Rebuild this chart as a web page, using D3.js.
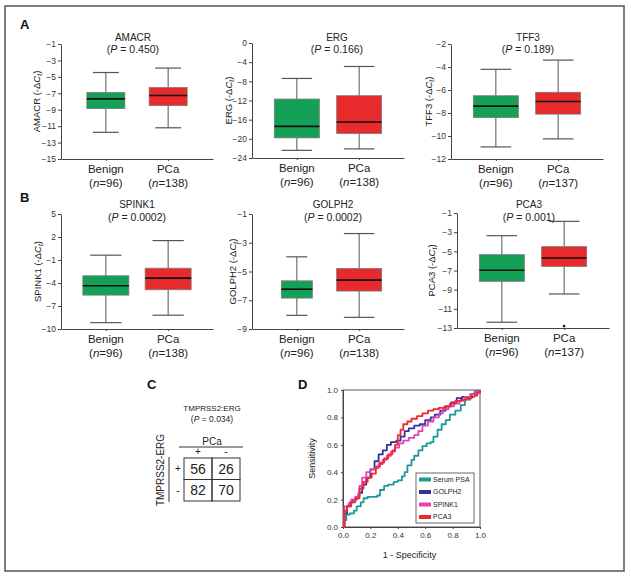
<!DOCTYPE html>
<html><head><meta charset="utf-8">
<script src="https://cdn.jsdelivr.net/npm/d3@7"></script>
<style>
body{margin:0;background:#fff}
svg{display:block}
text{font-family:"Liberation Sans",Arial,Helvetica,sans-serif;fill:#222}
</style>
</head><body><svg id="chart" width="631" height="581"></svg>
<script>
// ---------------- DATA ----------------
const groups = ["Benign", "PCa"];
const genes = ["AMACR", "ERG", "TFF3", "SPINK1", "GOLPH2", "PCA3"];
const pValues = ["0.450", "0.166", "0.189", "0.0002", "0.0002", "0.001"];
const nBenign = [96, 96, 96, 96, 96, 96];
const nPCa = [138, 138, 137, 138, 138, 137];
const yDomains = [[-15, -1], [-24, 0], [-12, -2], [-10, 5], [-9, -1], [-13, -1]];
const yTickLists = [
  [-15, -13, -11, -9, -7, -5, -3, -1],
  [-24, -20, -16, -12, -8, -4, 0],
  [-12, -10, -8, -6, -4, -2],
  [-10, -7, -4, -1, 2, 5],
  [-9, -7, -5, -3, -1],
  [-13, -11, -9, -7, -5, -3, -1]
];
// box statistics: [lower whisker, Q1, median, Q3, upper whisker]
const benignStats = [
  [-11.75, -8.86, -7.68, -6.9, -4.47],
  [-22.4, -19.8, -17.4, -11.7, -7.4],
  [-10.95, -8.4, -7.4, -6.5, -4.2],
  [-9.17, -5.58, -4.36, -3.06, -0.37],
  [-8.05, -6.85, -6.23, -5.65, -3.98],
  [-12.4, -8.13, -6.98, -5.35, -3.37]
];
const pcaStats = [
  [-11.2, -8.5, -7.27, -6.3, -3.93],
  [-22.1, -18.9, -16.5, -11.0, -4.9],
  [-10.25, -8.1, -7.0, -6.2, -3.4],
  [-8.2, -4.88, -3.37, -2.07, 1.53],
  [-8.19, -6.36, -5.6, -4.79, -2.36],
  [-9.45, -6.57, -5.7, -4.51, -1.87]
];
const pcaOutliers = [[], [], [], [], [], [-12.8]];

// contingency table TMPRSS2:ERG vs PCa
const tableTitle = "TMPRSS2:ERG";
const tableP = "0.034";
const tableCounts = [[56, 26], [82, 70]];

// ROC curves: [1 - specificity, sensitivity]
const rocSerumPSA = [[0,0],[0.01,0.05],[0.024,0.09],[0.05,0.1],[0.08,0.12],[0.1,0.15],[0.13,0.18],[0.15,0.21],[0.18,0.22],[0.22,0.22],[0.25,0.23],[0.27,0.27],[0.3,0.3],[0.33,0.31],[0.37,0.33],[0.4,0.34],[0.43,0.37],[0.45,0.4],[0.47,0.45],[0.5,0.49],[0.52,0.52],[0.55,0.56],[0.58,0.59],[0.61,0.61],[0.64,0.62],[0.66,0.66],[0.69,0.71],[0.72,0.75],[0.75,0.78],[0.78,0.82],[0.82,0.85],[0.86,0.89],[0.89,0.93],[0.93,0.97],[0.96,0.99],[1,1]];
const rocGOLPH2 = [[0,0],[0.01,0.1],[0.03,0.15],[0.05,0.18],[0.07,0.2],[0.1,0.22],[0.12,0.25],[0.14,0.31],[0.17,0.36],[0.2,0.42],[0.23,0.48],[0.26,0.53],[0.29,0.56],[0.32,0.6],[0.35,0.62],[0.39,0.63],[0.42,0.66],[0.45,0.7],[0.48,0.72],[0.52,0.74],[0.56,0.75],[0.6,0.78],[0.64,0.8],[0.67,0.82],[0.71,0.85],[0.75,0.88],[0.79,0.91],[0.83,0.94],[0.87,0.95],[0.91,0.95],[0.94,0.97],[0.97,0.99],[1,1]];
const rocSPINK1 = [[0,0],[0.01,0.15],[0.04,0.17],[0.06,0.2],[0.09,0.22],[0.11,0.24],[0.12,0.3],[0.14,0.36],[0.17,0.4],[0.2,0.42],[0.23,0.43],[0.26,0.46],[0.29,0.49],[0.32,0.52],[0.35,0.55],[0.38,0.58],[0.41,0.61],[0.44,0.63],[0.48,0.65],[0.52,0.67],[0.55,0.7],[0.58,0.74],[0.62,0.77],[0.66,0.8],[0.7,0.83],[0.73,0.86],[0.77,0.88],[0.81,0.9],[0.85,0.92],[0.89,0.95],[0.93,0.97],[0.97,0.99],[1,1]];
const rocPCA3 = [[0,0],[0.01,0.12],[0.03,0.15],[0.06,0.18],[0.09,0.21],[0.12,0.28],[0.15,0.33],[0.18,0.36],[0.21,0.39],[0.24,0.44],[0.27,0.47],[0.3,0.5],[0.33,0.53],[0.36,0.56],[0.38,0.6],[0.4,0.67],[0.42,0.71],[0.44,0.75],[0.47,0.77],[0.5,0.79],[0.54,0.81],[0.58,0.83],[0.62,0.85],[0.66,0.86],[0.7,0.87],[0.74,0.88],[0.78,0.9],[0.82,0.92],[0.86,0.93],[0.9,0.94],[0.94,0.95],[0.96,0.96],[0.98,0.98],[1,1]];
const rocNames = ["Serum PSA", "GOLPH2", "SPINK1", "PCA3"];
const rocTicks = [0, 0.2, 0.4, 0.6, 0.8, 1.0];

// ---------------- STYLE / LAYOUT ----------------
const groupColors = {Benign: "#15a057", PCa: "#e82a2d"};
const rocColors = ["#1c9a99", "#333399", "#e640b8", "#ee2a2c"];
const plotLayout = [
  {x0: 61,  top: 44,  bot: 159, titleDx: 72, labelDx: -25, boxW: 38, row: 0},
  {x0: 252, top: 43,  bot: 158, titleDx: 85, labelDx: -24, boxW: 45, row: 0},
  {x0: 451, top: 44,  bot: 159, titleDx: 77, labelDx: -23, boxW: 45, row: 0},
  {x0: 61,  top: 214, bot: 329, titleDx: 76, labelDx: -24, boxW: 46, row: 1},
  {x0: 252, top: 214, bot: 329, titleDx: 81, labelDx: -20, boxW: [31, 45], row: 1},
  {x0: 457, top: 213, bot: 328, titleDx: 72, labelDx: -26, boxW: 45, row: 1}
];
const titleY = [[40.5, 53], [207.5, 220.5]];
const axisW = 152;

const svg = d3.select("#chart");

// outer frame
svg.append("rect").attr("x", 5).attr("y", 6).attr("width", 619).attr("height", 565)
  .attr("fill", "none").attr("stroke", "#555").attr("stroke-width", 1.5);

// panel letters
const letters = [["A", 20, 29], ["B", 20, 202], ["C", 147, 389], ["D", 298, 389]];
svg.selectAll("text.letter").data(letters).join("text").attr("class", "letter")
  .attr("x", d => d[1]).attr("y", d => d[2]).text(d => d[0])
  .style("font-size", "13px").style("font-weight", "bold").style("fill", "#111");

// ---------------- BOX PLOTS ----------------
genes.forEach((gene, i) => {
  const L = plotLayout[i];
  const g = svg.append("g");
  const y = d3.scaleLinear().domain(yDomains[i]).range([L.bot, L.top]);
  const x = d3.scalePoint().domain(groups).range([L.x0, L.x0 + axisW]).padding(0.72);

  // y axis
  const ya = g.append("g").attr("transform", `translate(${L.x0},0)`)
    .call(d3.axisLeft(y).tickValues(yTickLists[i]).tickSize(3).tickSizeOuter(0).tickPadding(2)
      .tickFormat(d3.format("d")));
  ya.select(".domain").attr("stroke", "#444");
  ya.selectAll(".tick line").attr("stroke", "#444");
  ya.selectAll(".tick text").style("font-size", "8.5px").style("fill", "#333")
    .style("font-family", "'Liberation Sans',Arial,sans-serif");

  // x axis
  const xa = g.append("g").attr("transform", `translate(0,${L.bot})`)
    .call(d3.axisBottom(x).tickSize(2).tickSizeOuter(0).tickFormat(""));
  xa.select(".domain").attr("stroke", "#444");
  xa.selectAll(".tick line").attr("stroke", "#444");

  // boxes
  const stats = [benignStats[i], pcaStats[i]];
  groups.forEach((grp, k) => {
    const s = stats[k];
    const cx = x(grp);
    const bw = Array.isArray(L.boxW) ? L.boxW[k] : L.boxW;
    const capW = bw * 0.68;
    const wc = "#555";
    // whiskers
    g.append("line").attr("x1", cx).attr("x2", cx).attr("y1", y(s[4])).attr("y2", y(s[3]))
      .attr("stroke", wc).attr("stroke-width", 1);
    g.append("line").attr("x1", cx).attr("x2", cx).attr("y1", y(s[1])).attr("y2", y(s[0]))
      .attr("stroke", wc).attr("stroke-width", 1);
    [s[0], s[4]].forEach(v => {
      g.append("line").attr("x1", cx - capW / 2).attr("x2", cx + capW / 2)
        .attr("y1", y(v)).attr("y2", y(v)).attr("stroke", wc).attr("stroke-width", 1.2);
    });
    g.append("rect").attr("x", cx - bw / 2).attr("width", bw)
      .attr("y", y(s[3])).attr("height", y(s[1]) - y(s[3]))
      .attr("fill", groupColors[grp]).attr("stroke", "#7a7a7a").attr("stroke-width", 0.8);
    g.append("line").attr("x1", cx - bw / 2).attr("x2", cx + bw / 2)
      .attr("y1", y(s[2])).attr("y2", y(s[2])).attr("stroke", "#111").attr("stroke-width", 1.6);

    // labels
    g.append("text").attr("x", cx).attr("y", L.bot + 14).attr("text-anchor", "middle")
      .style("font-size", "11.5px").text(grp);
    const nt = g.append("text").attr("x", cx).attr("y", L.bot + 28).attr("text-anchor", "middle")
      .style("font-size", "11.5px");
    nt.append("tspan").text("(");
    nt.append("tspan").style("font-style", "italic").text("n");
    nt.append("tspan").text("=" + (k === 0 ? nBenign[i] : nPCa[i]) + ")");
  });
  // outliers
  pcaOutliers[i].forEach(v => {
    g.append("circle").attr("cx", x("PCa")).attr("cy", y(v)).attr("r", 1.4).attr("fill", "#222");
  });

  // title
  const tx = L.x0 + L.titleDx;
  g.append("text").attr("x", tx).attr("y", titleY[L.row][0]).attr("text-anchor", "middle")
    .style("font-size", "10px").text(gene);
  const pt = g.append("text").attr("x", tx).attr("y", titleY[L.row][1]).attr("text-anchor", "middle")
    .style("font-size", "10.5px");
  pt.append("tspan").text("(");
  pt.append("tspan").style("font-style", "italic").text("P");
  pt.append("tspan").text(" = " + pValues[i] + ")");

  // y label
  const ly = (L.top + L.bot) / 2;
  const lt = g.append("text").attr("transform", `translate(${L.x0 + L.labelDx + 3.5},${ly}) rotate(-90)`)
    .attr("text-anchor", "middle").style("font-size", "9.5px");
  lt.append("tspan").text(gene + " (-Δ");
  lt.append("tspan").style("font-style", "italic").text("C");
  lt.append("tspan").attr("dy", 2.5).style("font-size", "7px").style("font-style", "italic").text("t");
  lt.append("tspan").attr("dy", -2.5).text(")");
});

// ---------------- PANEL C: contingency table ----------------
(function () {
  const g = svg.append("g");
  const tx = 212;
  g.append("text").attr("x", tx).attr("y", 411).attr("text-anchor", "middle")
    .style("font-size", "8px").text(tableTitle);
  const pt = g.append("text").attr("x", tx).attr("y", 421.5).attr("text-anchor", "middle")
    .style("font-size", "8.5px");
  pt.append("tspan").text("(");
  pt.append("tspan").style("font-style", "italic").text("P");
  pt.append("tspan").text(" = " + tableP + ")");

  g.append("text").attr("x", tx).attr("y", 444.5).attr("text-anchor", "middle")
    .style("font-size", "10px").text("PCa");
  g.append("line").attr("x1", 179).attr("x2", 243).attr("y1", 447).attr("y2", 447)
    .attr("stroke", "#333").attr("stroke-width", 1);

  const cx = d3.scaleBand().domain([0, 1]).range([184, 240]);
  const cy = d3.scaleBand().domain([0, 1]).range([458, 501]);
  const signs = ["+", "-"];
  signs.forEach((s, j) => {
    g.append("text").attr("x", cx(j) + cx.bandwidth() / 2).attr("y", 455).attr("text-anchor", "middle")
      .style("font-size", "10px").text(s);
    g.append("text").attr("x", 178).attr("y", cy(j) + cy.bandwidth() / 2 + 3.5).attr("text-anchor", "middle")
      .style("font-size", "10px").text(s);
  });
  tableCounts.forEach((row, r) => row.forEach((v, c) => {
    g.append("rect").attr("x", cx(c)).attr("y", cy(r)).attr("width", cx.bandwidth()).attr("height", cy.bandwidth())
      .attr("fill", "none").attr("stroke", "#333").attr("stroke-width", 1);
    g.append("text").attr("x", cx(c) + cx.bandwidth() / 2).attr("y", cy(r) + cy.bandwidth() / 2 + 5)
      .attr("text-anchor", "middle").style("font-size", "14px").text(v);
  }));
  g.append("line").attr("x1", 169).attr("x2", 169).attr("y1", 457).attr("y2", 502)
    .attr("stroke", "#333").attr("stroke-width", 1);
  g.append("text").attr("transform", "translate(163.5,470) rotate(-90)").attr("text-anchor", "middle")
    .style("font-size", "10px").text("TMPRSS2-ERG");
})();

// ---------------- PANEL D: ROC ----------------
(function () {
  const g = svg.append("g");
  const X0 = 343, X1 = 480, Y0 = 527, Y1 = 390;
  const x = d3.scaleLinear().domain([0, 1]).range([X0, X1]);
  const y = d3.scaleLinear().domain([0, 1]).range([Y0, Y1]);
  const fmt = d3.format(".1f");

  g.append("rect").attr("x", X0).attr("y", Y1).attr("width", X1 - X0).attr("height", Y0 - Y1)
    .attr("fill", "none").attr("stroke", "#555").attr("stroke-width", 1);

  const xa = g.append("g").attr("transform", `translate(0,${Y0})`)
    .call(d3.axisBottom(x).tickValues(rocTicks).tickFormat(fmt).tickSize(2).tickSizeOuter(0).tickPadding(3));
  const ya = g.append("g").attr("transform", `translate(${X0},0)`)
    .call(d3.axisLeft(y).tickValues(rocTicks).tickFormat(fmt).tickSize(2).tickSizeOuter(0).tickPadding(3));
  [xa, ya].forEach(a => {
    a.select(".domain").attr("stroke", "#444");
    a.selectAll(".tick line").attr("stroke", "#444");
    a.selectAll(".tick text").style("font-size", "8px").style("fill", "#333")
      .style("font-family", "'Liberation Sans',Arial,sans-serif");
  });

  const curves = [rocSerumPSA, rocGOLPH2, rocSPINK1, rocPCA3];
  const line = d3.line().x(d => x(d[0])).y(d => y(d[1])).curve(d3.curveStepAfter);
  curves.forEach((c, i) => {
    g.append("path").datum(c).attr("d", line).attr("fill", "none")
      .attr("stroke", rocColors[i]).attr("stroke-width", 1.8).attr("stroke-linejoin", "round");
  });

  g.append("text").attr("x", (X0 + X1) / 2 - 2).attr("y", 558).attr("text-anchor", "middle")
    .style("font-size", "9px").text("1 - Specificity");
  g.append("text").attr("transform", `translate(315,${(Y0 + Y1) / 2}) rotate(-90)`).attr("text-anchor", "middle")
    .style("font-size", "9px").text("Sensitivity");

  // legend
  const lg = g.append("g");
  lg.append("rect").attr("x", 416).attr("y", 473).attr("width", 58).attr("height", 50)
    .attr("fill", "#fff").attr("stroke", "#444").attr("stroke-width", 0.8);
  rocNames.forEach((n, i) => {
    const yy = 479.5 + i * 12.5;
    lg.append("line").attr("x1", 419).attr("x2", 431).attr("y1", yy).attr("y2", yy)
      .attr("stroke", rocColors[i]).attr("stroke-width", 4);
    lg.append("text").attr("x", 433).attr("y", yy + 2.4).style("font-size", "7px").text(n);
  });
})();
</script>
</body></html>
